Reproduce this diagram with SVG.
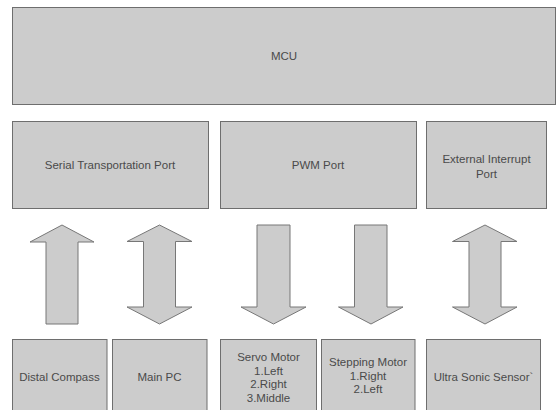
<svg xmlns="http://www.w3.org/2000/svg" width="558" height="410" viewBox="0 0 558 410">
<style>
.box{fill:#cccccc;stroke:#6e6e6e;stroke-width:1}
.arr{fill:#cccccc;stroke:#777777;stroke-width:1;stroke-linejoin:miter}
.t{font-family:"Liberation Sans",Arial,sans-serif;font-size:11.5px;fill:#4a4a4a;text-anchor:middle}
</style>
<rect width="558" height="410" fill="#ffffff"/>
<g id="mcu"><rect class="box" x="12.5" y="7.5" width="543" height="97"/><text class="t" x="284" y="60">MCU</text></g>
<g id="serial-port"><rect class="box" x="12.5" y="121.5" width="196" height="87"/><text class="t" x="110" y="169">Serial Transportation Port</text></g>
<g id="pwm-port"><rect class="box" x="220.5" y="121.5" width="196" height="87"/><text class="t" x="318" y="169">PWM Port</text></g>
<g id="ext-int-port"><rect class="box" x="426.5" y="121.5" width="120" height="87"/><text class="t" x="486.5" y="163">External Interrupt</text><text class="t" x="486.5" y="178">Port</text></g>
<g id="connectors">
<polygon class="arr" points="62,225 94,242 78,242 78,324 46,324 46,242 30,242"/>
<polygon class="arr" points="159.5,225 192,241.5 175.5,241.5 175.5,307 192,307 159.5,324 127,307 143.5,307 143.5,241.5 127,241.5"/>
<polygon class="arr" points="257,225 290,225 290,307 306,307 273.5,324 241,307 257,307"/>
<polygon class="arr" points="354.5,225 387,225 387,307 403,307 371,324 338.5,307 354.5,307"/>
<polygon class="arr" points="485,225 517,241.5 501,241.5 501,307 517,307 485,324 452.5,307 469,307 469,241.5 452.5,241.5"/>
</g>
<g id="distal-compass"><rect class="box" x="12.5" y="339.5" width="94.5" height="90"/><text class="t" x="59.5" y="381">Distal Compass</text></g>
<g id="main-pc"><rect class="box" x="112.5" y="339.5" width="94.5" height="90"/><text class="t" x="159.5" y="381">Main PC</text></g>
<g id="servo-motor"><rect class="box" x="220.5" y="339.5" width="96" height="90"/><text class="t" x="268.5" y="361">Servo Motor</text><text class="t" x="268.5" y="374.5">1.Left</text><text class="t" x="268.5" y="388">2.Right</text><text class="t" x="268.5" y="401.5">3.Middle</text></g>
<g id="stepping-motor"><rect class="box" x="321.5" y="339.5" width="93.5" height="90"/><text class="t" x="368" y="366">Stepping Motor</text><text class="t" x="368" y="379.5">1.Right</text><text class="t" x="368" y="393">2.Left</text></g>
<g id="ultra-sonic"><rect class="box" x="426.5" y="339.5" width="114" height="90"/><text class="t" x="483.5" y="381">Ultra Sonic Sensor`</text></g>
</svg>
